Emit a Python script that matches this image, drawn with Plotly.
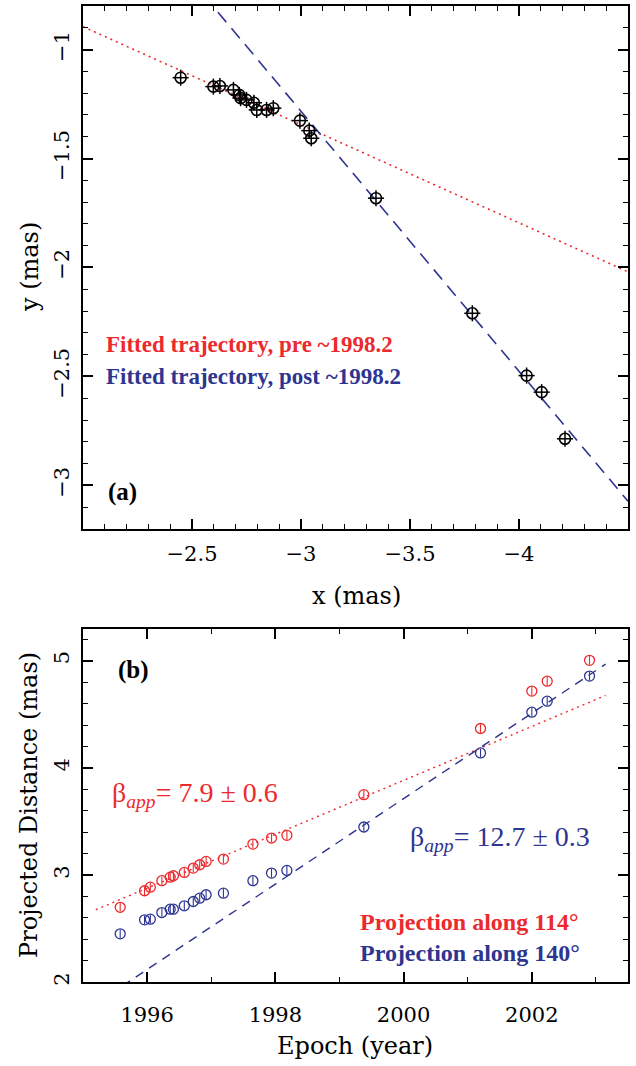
import numpy as np
import plotly.graph_objects as go

# ---------------- data ----------------
# Panel (a): component positions (mas)
pos_x = [-2.448, -2.598, -2.628, -2.690, -2.717, -2.723, -2.750, -2.784, -2.797, -2.842,
         -2.873, -2.995, -3.038, -3.047, -3.344, -3.786, -4.035, -4.104, -4.211]
pos_y = [-1.129, -1.170, -1.167, -1.185, -1.208, -1.223, -1.231, -1.244, -1.277, -1.277,
         -1.269, -1.326, -1.372, -1.407, -1.682, -2.210, -2.496, -2.572, -2.786]
pos_err = [0.037] * len(pos_x)

# fitted trajectories y = a*x + b
pre_slope, pre_icpt = 0.45, 0.005
post_slope, post_icpt = 1.193, 2.296
traj_x_range = [-2.0, -4.5]

# Panel (b): projected distance vs epoch
epochs = [1995.58, 1995.96, 1996.05, 1996.23, 1996.36, 1996.41, 1996.58, 1996.72, 1996.82, 1996.92,
          1997.19, 1997.65, 1997.94, 1998.18, 1999.38, 2001.20, 2002.00, 2002.24, 2002.90]
dist_114 = [2.700, 2.854, 2.888, 2.948, 2.981, 2.994, 3.025, 3.066, 3.097, 3.128,
            3.150, 3.290, 3.346, 3.371, 3.751, 4.368, 4.717, 4.810, 5.004]
dist_140 = [2.452, 2.583, 2.589, 2.651, 2.682, 2.682, 2.714, 2.754, 2.785, 2.817,
            2.832, 2.948, 3.019, 3.044, 3.449, 4.140, 4.520, 4.623, 4.857]
dist_err = [0.04] * len(epochs)

# linear fits: d = d0 + rate*(t - t0)
fit114_t0, fit114_d0, fit114_rate = 1995.2, 2.677, 0.2515
fit140_t0, fit140_d0, fit140_rate = 1995.7, 2.000, 0.3985
fit_epoch_range = [1995.2, 2003.15]

x_ticks_a = [-2.5, -3, -3.5, -4]
y_ticks_a = [-3, -2.5, -2, -1.5, -1]
x_ticks_b = [1996, 1998, 2000, 2002]
y_ticks_b = [2, 3, 4, 5]

RED = "#ec2a2e"
BLUE = "#2e3591"
W, H = 636, 1066

fig = go.Figure()

# ---- panel (a)
lx = np.linspace(traj_x_range[0], traj_x_range[1], 200)
fig.add_trace(go.Scatter(x=lx, y=pre_slope * lx + pre_icpt, mode="lines",
                         line=dict(color=RED, width=1.6, dash="2px,4px"),
                         xaxis="x", yaxis="y", showlegend=False))
fig.add_trace(go.Scatter(x=lx, y=post_slope * lx + post_icpt, mode="lines",
                         line=dict(color=BLUE, width=1.6, dash="13px,8px"),
                         xaxis="x", yaxis="y", showlegend=False))
fig.add_trace(go.Scatter(x=pos_x, y=pos_y, mode="markers",
                         marker=dict(symbol="circle-open", size=11, color="black",
                                     line=dict(width=1.6, color="black")),
                         error_x=dict(type="data", array=pos_err, color="black", thickness=1.5, width=0),
                         error_y=dict(type="data", array=pos_err, color="black", thickness=1.5, width=0),
                         xaxis="x", yaxis="y", showlegend=False))

# ---- panel (b)
lt = np.linspace(fit_epoch_range[0], fit_epoch_range[1], 200)
fig.add_trace(go.Scatter(x=lt, y=fit114_d0 + fit114_rate * (lt - fit114_t0), mode="lines",
                         line=dict(color=RED, width=1.4, dash="2px,4px"),
                         xaxis="x2", yaxis="y2", showlegend=False))
fig.add_trace(go.Scatter(x=lt, y=fit140_d0 + fit140_rate * (lt - fit140_t0), mode="lines",
                         line=dict(color=BLUE, width=1.4, dash="9px,7px"),
                         xaxis="x2", yaxis="y2", showlegend=False))
for d, c in [(dist_114, RED), (dist_140, BLUE)]:
    fig.add_trace(go.Scatter(x=epochs, y=d, mode="markers",
                             marker=dict(symbol="circle-open", size=10, color=c,
                                         line=dict(width=1.3, color=c)),
                             error_y=dict(type="data", array=dist_err, color=c, thickness=1.1, width=0),
                             xaxis="x2", yaxis="y2", showlegend=False))

tickfont = dict(family="DejaVu Serif", size=21, color="black")
common = dict(showline=True, linecolor="black", linewidth=2, mirror="allticks",
              ticks="inside", ticklen=10, tickwidth=1.5, tickcolor="black",
              showgrid=False, zeroline=False, tickfont=tickfont, tickmode="array")

def minor(vals):
    return dict(ticks="inside", ticklen=5, tickwidth=1.3, tickcolor="black",
                showgrid=False, tickmode="array", tickvals=list(vals))

xd = [83 / W, 628 / W]
fig.update_layout(
    width=W, height=H, margin=dict(l=0, r=0, t=0, b=0),
    paper_bgcolor="white", plot_bgcolor="white",
    xaxis=dict(domain=xd, range=[-2.0, -4.5], tickvals=x_ticks_a, anchor="y",
               minor=minor(np.round(np.arange(-2.0, -4.51, -0.1), 2)),
               ticklabelstandoff=5, **common),
    yaxis=dict(domain=[1 - 531 / H, 1 - 6 / H], range=[-3.2, -0.8], tickvals=y_ticks_a,
               anchor="x", tickangle=-90,
               minor=minor(np.round(np.arange(-3.2, -0.79, 0.1), 2)),
               ticklabelstandoff=4, **common),
    xaxis2=dict(domain=xd, range=[1995, 2003.5], tickvals=x_ticks_b, anchor="y2",
                minor=minor(range(1995, 2004)), ticklabelstandoff=12, **common),
    yaxis2=dict(domain=[1 - 986 / H, 1 - 631 / H], range=[2, 5.3], tickvals=y_ticks_b,
                anchor="x2", tickangle=-90,
                minor=minor(np.round(np.arange(2.0, 5.31, 0.2), 2)),
                ticklabelstandoff=4, **common),
)

def ann(text, px, py, size, color="black", family="Liberation Serif", xanchor="left",
        angle=0, bold=False):
    if bold:
        text = "<b>" + text + "</b>"
    fig.add_annotation(text=text, x=px / W, y=1 - py / H, xref="paper", yref="paper",
                       xanchor=xanchor, yanchor="middle", showarrow=False, textangle=angle,
                       font=dict(family=family, size=size, color=color))

# axis titles
ax_font = "DejaVu Serif"
ann("y (mas)", 30, 268, 24, family=ax_font, xanchor="center", angle=-90)
ann("x (mas)", 356, 598, 24, family=ax_font, xanchor="center")
ann("Projected Distance (mas)", 29, 808, 24, family=ax_font, xanchor="center", angle=-90)
ann("Epoch (year)", 355, 1050, 24, family=ax_font, xanchor="center")

# panel texts
ann("Fitted trajectory, pre ~1998.2", 104, 346, 23, color=RED, bold=True)
ann("Fitted trajectory, post ~1998.2", 104, 378, 23, color=BLUE, bold=True)
ann("(a)", 106, 494, 25, bold=True)
ann("(b)", 116, 673, 25, bold=True)
ann("β<sub><i>app</i></sub>= 7.9 ± 0.6", 110, 797, 28, color=RED)
ann("β<sub><i>app</i></sub>= 12.7 ± 0.3", 408, 842, 28, color=BLUE)
ann("Projection along 114°", 358, 925, 24, color=RED, bold=True)
ann("Projection along 140°", 358, 957, 24, color=BLUE, bold=True)

fig.write_html("out.html", config={"displayModeBar": False},
               post_script="document.body.style.margin='0';document.body.style.overflow='hidden';")
